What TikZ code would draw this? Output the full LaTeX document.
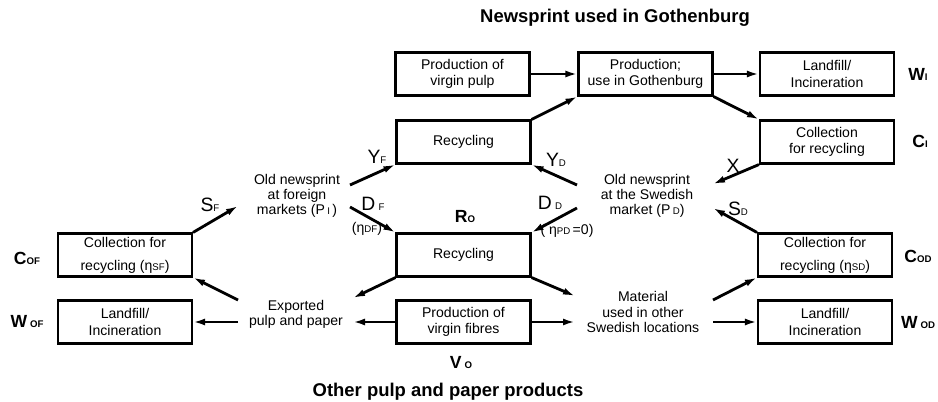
\documentclass[tikz,border=0pt]{standalone}
\usepackage{fontspec}
\setmainfont{Liberation Sans}
\usetikzlibrary{arrows.meta}
\newcommand{\lsub}[1]{{\fontsize{5.5}{6}\selectfont #1}}

\begin{document}
\begin{tikzpicture}[
		box/.style = { draw, line width=1.2pt, minimum width=2.68cm, minimum height=0.86cm, inner ysep=0.5pt, align=center, font=\fontsize{8}{9.2}\selectfont },
		txt/.style = { align=center, font=\fontsize{8}{8.6}\selectfont },
		flow/.style = { line width=1.6pt, -{Latex[length=2.4mm,width=1.4mm]} },
		lab/.style = { font=\fontsize{11}{11}\selectfont },
		big/.style = { font=\fontsize{10}{10}\selectfont\bfseries },
		title/.style = { font=\fontsize{10.5}{11}\selectfont\bfseries }
	]
	\useasboundingbox ( 0.00, 0.00 ) rectangle ( 18.76, 8.02 );

	% верхний ряд
	\node [box] (pulp) at ( 9.25, 6.54 ) {Production of\\virgin pulp};
	\node [box] (prodG) at ( 12.91, 6.54 ) {Production;\\use in Gothenburg};
	\node [box] (landT) at ( 16.54, 6.54 ) {Landfill/\\Incineration};
	\node [box] (recT) at ( 9.27, 5.18 ) {Recycling};
	\node [box] (collT) at ( 16.54, 5.18 ) {Collection\\for recycling};

	% рынки старой газетной бумаги
	\node [txt] (oldF) at ( 5.94, 4.10 ) {Old newsprint\\at foreign\\markets (P\,\lsub{I}\,)};
	\node [txt] (oldD) at ( 12.94, 4.10 ) {Old newsprint\\at the Swedish\\market (P\,\lsub{D})};

	% нижний ряд
	\node [box] (collF) at ( 2.50, 2.92 ) {Collection for\\[4pt]recycling (η\lsub{SF})};
	\node [box] (recM) at ( 9.27, 2.92 ) {Recycling};
	\node [box] (collD) at ( 16.50, 2.92 ) {Collection for\\[4pt]recycling (η\lsub{SD})};
	\node [box] (landF) at ( 2.50, 1.58 ) {Landfill/\\Incineration};
	\node [box] (fib) at ( 9.27, 1.58 ) {Production of\\virgin fibres};
	\node [box] (landD) at ( 16.50, 1.58 ) {Landfill/\\Incineration};
	\node [txt] (exp) at ( 5.92, 1.74 ) {Exported\\pulp and paper};
	\node [txt] (mat) at ( 12.86, 1.78 ) {Material\\used in other\\Swedish locations};

	% концы стрелок у текстов
	\coordinate (sF) at ( 4.76, 3.90 );
	\coordinate (yF) at ( 7.00, 4.32 );
	\coordinate (dF) at ( 7.00, 3.88 );
	\coordinate (yD) at ( 11.54, 4.32 );
	\coordinate (dD) at ( 11.54, 3.86 );
	\coordinate (xD) at ( 14.26, 4.34 );
	\coordinate (sD) at ( 14.26, 3.86 );
	\coordinate (eR) at ( 7.06, 2.06 );
	\coordinate (eV) at ( 7.06, 1.58 );
	\coordinate (eC) at ( 4.76, 2.02 );
	\coordinate (eW) at ( 4.76, 1.58 );
	\coordinate (mR) at ( 11.50, 2.10 );
	\coordinate (mV) at ( 11.50, 1.58 );
	\coordinate (mC) at ( 14.26, 2.02 );
	\coordinate (mW) at ( 14.26, 1.58 );

	% потоки
	\draw [flow] (pulp) -- (prodG);
	\draw [flow] (prodG) -- (landT);
	\draw [flow] (recT.north east) -- (prodG.south west);
	\draw [flow] (prodG.south east) -- (collT.north west);
	\draw [flow] (collT.south west) -- (xD);
	\draw [flow] (yD) -- (recT.south east);
	\draw [flow] (yF) -- (recT.south west);
	\draw [flow] (collF.north east) -- (sF);
	\draw [flow] (dF) -- (recM.north west);
	\draw [flow] (dD) -- (recM.north east);
	\draw [flow] (collD.north west) -- (sD);
	\draw [flow] (recM.south west) -- (eR);
	\draw [flow] (fib.west) -- (eV);
	\draw [flow] (eC) -- (collF.south east);
	\draw [flow] (eW) -- (landF.east);
	\draw [flow] (recM.south east) -- (mR);
	\draw [flow] (fib.east) -- (mV);
	\draw [flow] (mC) -- (collD.south west);
	\draw [flow] (mW) -- (landD.west);

	% подписи потоков
	\node [lab] (lSF) at ( 4.20, 3.92 ) {S\lsub{F}};
	\node [lab] (lYF) at ( 7.54, 4.88 ) {Y\lsub{F}};
	\node [lab] (lDF) at ( 7.46, 3.94 ) {D\,\lsub{F}};
	\node [txt] (lEF) at ( 7.34, 3.44 ) {(η\lsub{DF})};
	\node [lab] (lYD) at ( 11.12, 4.82 ) {Y\lsub{D}};
	\node [lab] (lDD) at ( 11.00, 3.96 ) {D\,\lsub{D}};
	\node [txt] (lED) at ( 11.34, 3.40 ) {( η\lsub{PD}\,=0)};
	\node [lab] (lX) at ( 14.66, 4.70 ) {X};
	\node [lab] (lSD) at ( 14.76, 3.84 ) {S\lsub{D}};

	% обозначения блоков
	\node [big] (lRO) at ( 9.30, 3.68 ) {R\lsub{O}};
	\node [big] (lVO) at ( 9.22, 0.76 ) {V\,\lsub{O}};
	\node [big] (lCOF) at ( 0.54, 2.86 ) {C\lsub{OF}};
	\node [big] (lWOF) at ( 0.54, 1.58 ) {W\,\lsub{OF}};
	\node [big] (lCOD) at ( 18.36, 2.90 ) {C\lsub{OD}};
	\node [big] (lWOD) at ( 18.36, 1.56 ) {W\,\lsub{OD}};
	\node [big] (lWI) at ( 18.36, 6.54 ) {W\lsub{I}};
	\node [big] (lCI) at ( 18.40, 5.20 ) {C\lsub{I}};

	% заголовки
	\node [title] (topT) at ( 12.30, 7.66 ) {Newsprint used in Gothenburg};
	\node [title] (botT) at ( 8.96, 0.18 ) {Other pulp and paper products};
\end{tikzpicture}
\end{document}
